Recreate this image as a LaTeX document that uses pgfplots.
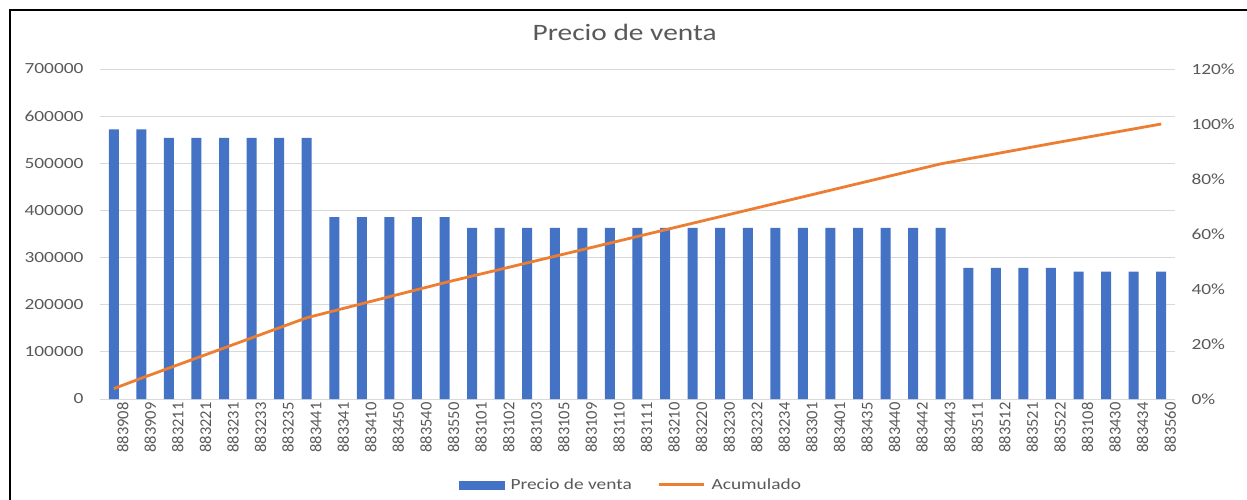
\documentclass[border=0pt]{standalone}
\usepackage{pgfplots}
\pgfplotsset{compat=1.18}
\usepackage{fontspec}
\setmainfont{Carlito}[FakeStretch=1.25]
\newfontfamily\rotfont{Carlito}
\definecolor{barblue}{HTML}{4472C4}
\definecolor{lineorange}{HTML}{ED7D31}
\definecolor{txtgray}{HTML}{595959}
\definecolor{gridgray}{HTML}{D9D9D9}
\begin{document}
\begin{tikzpicture}
\useasboundingbox (-100pt,-100pt) rectangle (1147pt,399pt);
\draw[black, line width=2pt] (-90pt,-130pt) rectangle (1170pt,389pt);
\begin{axis}[
    name=main,
    scale only axis,
    width=1075pt, height=330pt,
    xmin=-0.5, xmax=38.5,
    ymin=0, ymax=700000,
    ytick={0,100000,200000,300000,400000,500000,600000,700000},
    scaled y ticks=false,
    xtick={0,...,38},
    xticklabels={883908,883909,883211,883221,883231,883233,883235,883441,883341,883410,
      883450,883540,883550,883101,883102,883103,883105,883109,883110,883111,883210,883220,
      883230,883232,883234,883301,883401,883435,883440,883442,883443,883511,883512,883521,
      883522,883108,883430,883434,883560},
    xticklabel style={rotate=90, anchor=east, yshift=-9pt, text=txtgray,
      font=\rotfont\fontsize{16.5}{16.5}\selectfont},
    yticklabel style={anchor=east, xshift=-13pt, text=txtgray,
      font=\fontsize{15.5}{16}\selectfont,
      /pgf/number format/fixed, /pgf/number format/1000 sep={},
      /pgf/number format/assume math mode=true},
    axis line style={draw=none},
    major tick length=0pt,
    ymajorgrids,
    grid style={gridgray, line width=0.9pt},
    ybar, bar width=10pt,
    clip=false,
]
\addplot[fill=barblue, draw=none] coordinates {
    (0,572000) (1,572000) (2,554000) (3,554000) (4,554000) (5,554000) (6,554000) (7,554000)
    (8,386000) (9,386000) (10,386000) (11,386000) (12,386000)
    (13,363000) (14,363000) (15,363000) (16,363000) (17,363000) (18,363000) (19,363000)
    (20,363000) (21,363000) (22,363000) (23,363000) (24,363000) (25,363000) (26,363000)
    (27,363000) (28,363000) (29,363000) (30,363000)
    (31,278000) (32,278000) (33,278000) (34,278000)
    (35,270000) (36,270000) (37,270000) (38,270000)
};
\node[font=\fontsize{23.5}{24}\selectfont, text=txtgray] at (rel axis cs:0.488,1) [yshift=37pt] {Precio de venta};
\end{axis}
\begin{axis}[
    scale only axis,
    width=1075pt, height=330pt,
    xmin=-0.5, xmax=38.5,
    ymin=0, ymax=120,
    ytick={0,20,40,60,80,100,120},
    yticklabel={\pgfmathprintnumber[assume math mode=true]{\tick}\%},
    axis y line*=right,
    hide x axis,
    axis line style={draw=none},
    major tick length=0pt,
    yticklabel style={anchor=west, xshift=13pt, text=txtgray,
      font=\fontsize{15.5}{16}\selectfont},
    legend style={at={(0.494,-0.26)}, anchor=center, draw=none, fill=none,
      legend columns=-1, font=\fontsize{15.5}{16}\selectfont, text=txtgray,
      /tikz/every odd column/.append style={column sep=4pt},
      /tikz/every even column/.append style={column sep=24pt}},
]
\addlegendimage{legend image code/.code={\fill[barblue] (0pt,-4pt) rectangle (45pt,4pt);}}
\addlegendentry{Precio de venta}
\addplot[lineorange, line width=2.8pt, no marks,
    legend image code/.code={\draw[lineorange, line width=2.8pt] (0pt,0pt) -- (45pt,0pt);}]
  coordinates {
    (0,3.78) (1,7.56) (2,11.23) (3,14.89) (4,18.55) (5,22.22) (6,25.88) (7,29.54)
    (8,32.09) (9,34.65) (10,37.20) (11,39.75) (12,42.30) (13,44.70) (14,47.10)
    (15,49.50) (16,51.90) (17,54.30) (18,56.70) (19,59.11) (20,61.50) (21,63.91)
    (22,66.31) (23,68.70) (24,71.11) (25,73.51) (26,75.91) (27,78.31) (28,80.71)
    (29,83.11) (30,85.51) (31,87.34) (32,89.18) (33,91.02) (34,92.86) (35,94.64)
    (36,96.43) (37,98.21) (38,100)
};
\addlegendentry{Acumulado}
\end{axis}
\end{tikzpicture}
\end{document}
